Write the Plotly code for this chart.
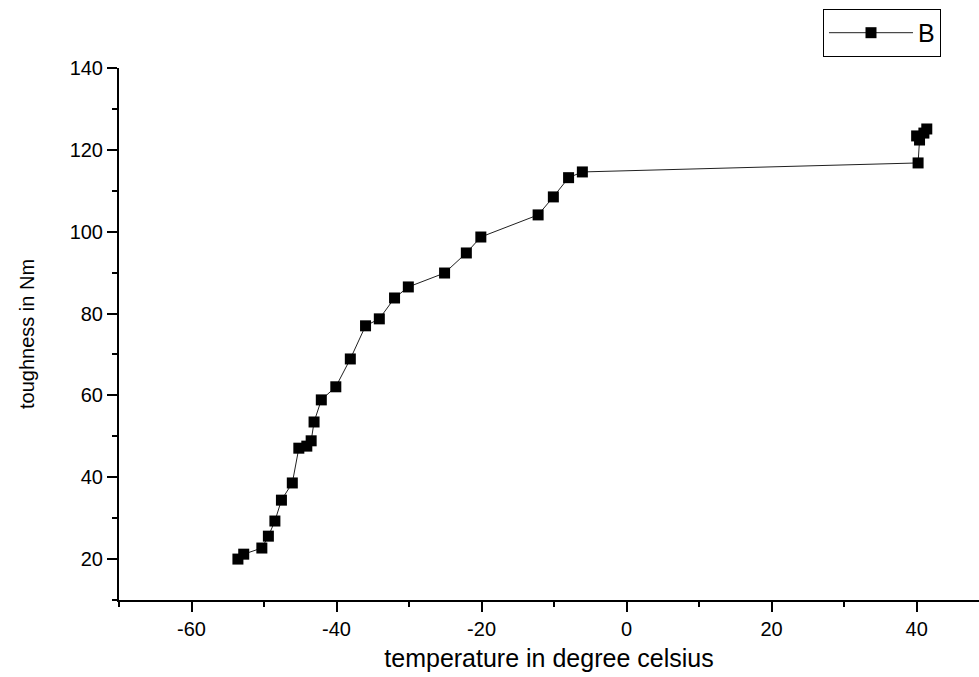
import plotly.graph_objects as go

temperature = [-53.6, -52.8, -50.3, -49.4, -48.5, -47.6, -46.1, -45.2, -44.1, -43.5,
               -43.1, -42.1, -40.1, -38.1, -36.0, -34.1, -32.0, -30.1, -25.1, -22.1,
               -20.1, -12.2, -10.1, -8.0, -6.1, 40.2, 40.4, 40.0, 41.0, 41.4]
toughness = [20.0, 21.2, 22.7, 25.6, 29.3, 34.4, 38.6, 47.1, 47.6, 48.9,
             53.5, 58.9, 62.1, 68.9, 77.0, 78.7, 83.8, 86.5, 89.9, 94.8,
             98.7, 104.1, 108.5, 113.2, 114.6, 116.8, 122.4, 123.4, 124.1, 125.1]

x_ticks = [-60, -40, -20, 0, 20, 40]
x_tick_labels = ["-60", "-40", "-20", "0", "20", "40"]
y_ticks = [20, 40, 60, 80, 100, 120, 140]
y_tick_labels = ["20", "40", "60", "80", "100", "120", "140"]

FONT = "Arial, Liberation Sans, sans-serif"

fig = go.Figure()
fig.add_trace(go.Scatter(
    x=temperature, y=toughness, mode="lines+markers", name="B",
    line=dict(color="#202020", width=1),
    marker=dict(symbol="square", size=11, color="black"),
))

axis_common = dict(
    showline=True, linecolor="black", linewidth=2, mirror=False,
    ticks="outside", ticklen=10, tickwidth=2, tickcolor="black",
    showgrid=False, zeroline=False,
    tickfont=dict(family=FONT, size=20, color="black"),
)

fig.update_xaxes(
    range=[-70, 48.6], tickvals=x_ticks, ticktext=x_tick_labels,
    minor=dict(ticks="outside", ticklen=5, tickwidth=2, tickcolor="black", dtick=10, tick0=0),
    title=dict(text="temperature in degree celsius", font=dict(family=FONT, size=25, color="black"), standoff=10),
    **axis_common,
)
fig.update_yaxes(
    range=[10, 140], tickvals=y_ticks, ticktext=y_tick_labels,
    minor=dict(ticks="outside", ticklen=5, tickwidth=2, tickcolor="black", dtick=10, tick0=0),
    title=dict(text="toughness in Nm", font=dict(family=FONT, size=20, color="black"), standoff=30),
    **axis_common,
)

fig.update_layout(
    width=979, height=677,
    margin=dict(l=119, r=0, t=68, b=77, autoexpand=False),
    plot_bgcolor="white", paper_bgcolor="white",
    showlegend=True,
    legend=dict(
        x=0.8186, y=1.111, xanchor="left", yanchor="top",
        bordercolor="black", borderwidth=1, bgcolor="white",
        font=dict(family=FONT, size=25, color="black"),
        itemwidth=84, tracegroupgap=0,
    ),
)

fig.write_html("out.html")
